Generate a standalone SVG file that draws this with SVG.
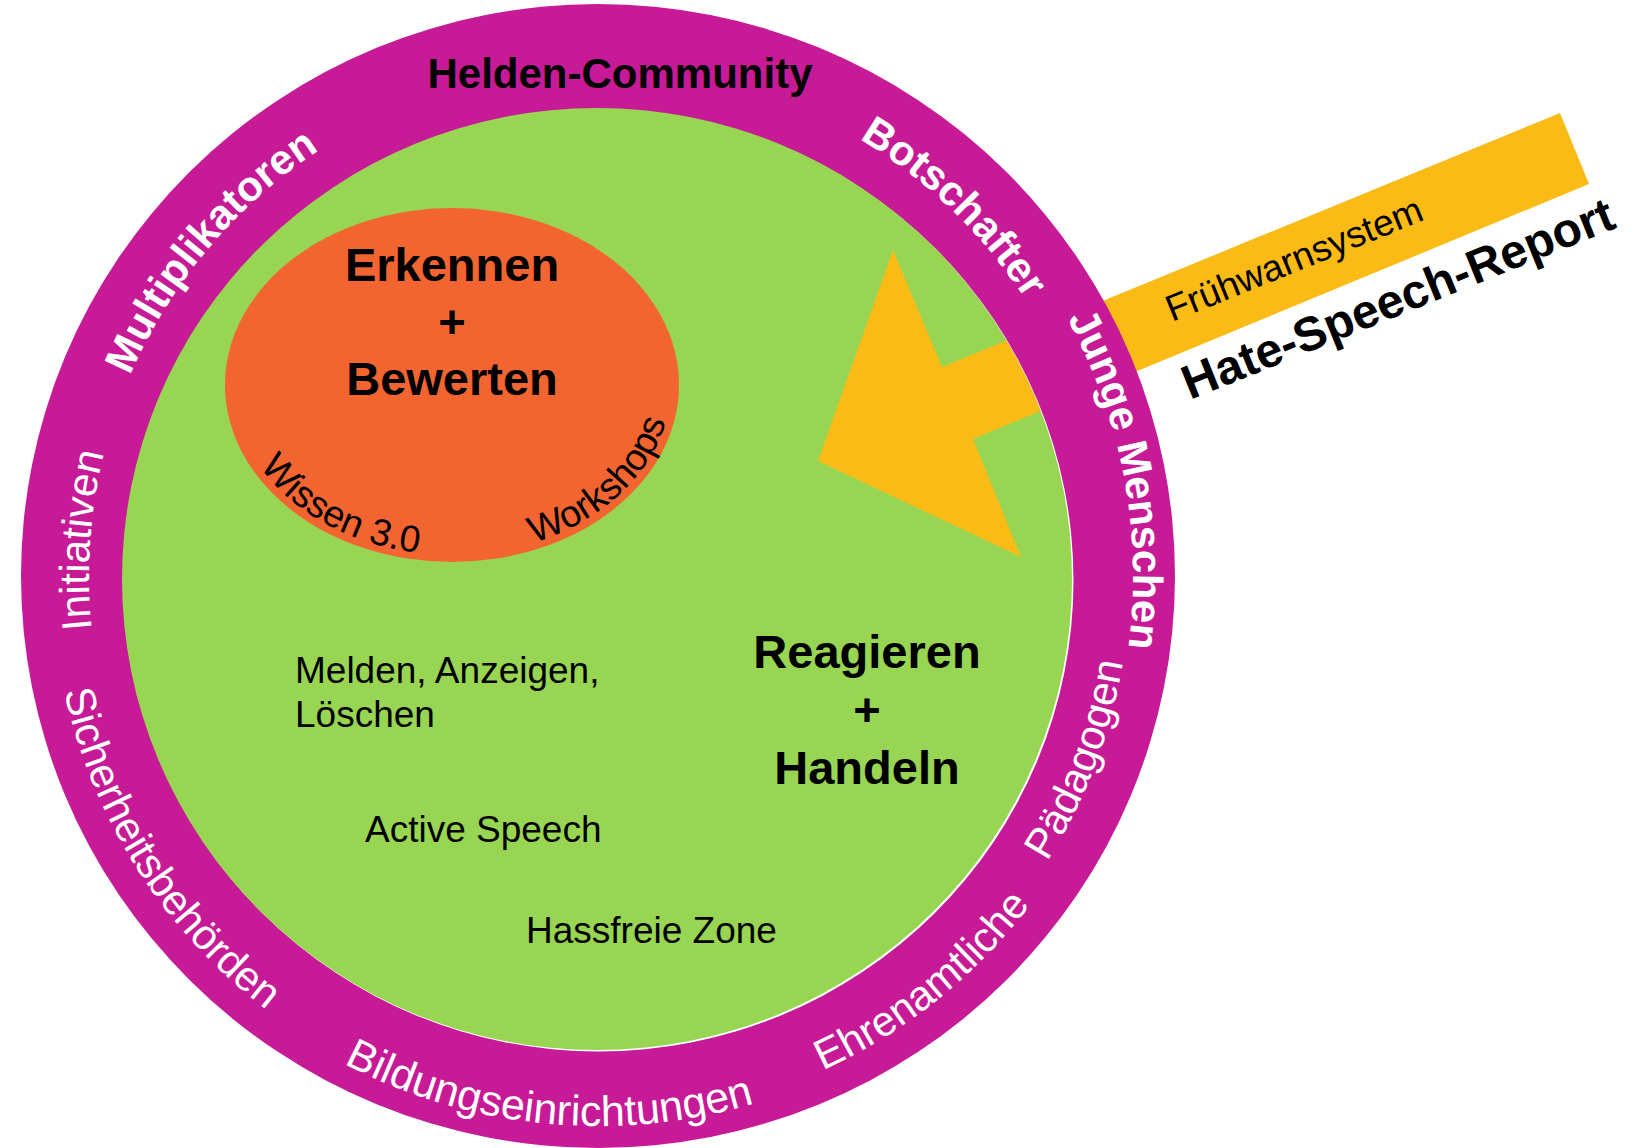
<svg xmlns="http://www.w3.org/2000/svg" width="1650" height="1148" viewBox="0 0 1650 1148">
<style>
text{font-family:"Liberation Sans",Arial,sans-serif}
.ringb{font-weight:bold;font-size:42px;fill:#fff}
.ringr{font-size:42px;fill:#fff}
.big{font-weight:bold;font-size:47px;fill:#000;text-anchor:middle}
.mid{font-size:37px;fill:#000}
.ell{font-size:37.5px;fill:#000}
</style>
<defs>
<path id="pMulti" d="M208.1,903.2 A509,509 0 0 1 852.5,135.2"/>
<path id="pBot" d="M298.8,164.2 A509,509 0 0 1 1020.0,860.6"/>
<path id="pJung" d="M593.3,41.0 A535,535 0 0 1 785.4,1077.1"/>
<path id="pIni" d="M474.9,1069.9 A509,509 0 0 1 544.8,69.8"/>
<path id="pSich" d="M229.8,172.8 A546,546 0 0 0 806.1,1080.8"/>
<path id="pBild" d="M49.7,619.2 A550,550 0 0 0 1128.0,723.0"/>
<path id="pEhr" d="M238.9,983.3 A543,543 0 0 0 1074.8,316.1"/>
<path id="pPaed" d="M497.4,1098.4 A532,532 0 0 0 871.2,119.5"/>
<path id="pOval" d="M233,385 A219,170 0 0 0 671,385"/>
<clipPath id="greenClip"><ellipse cx="597" cy="579" rx="475" ry="471"/></clipPath>
<polygon id="bolt" points="893,250 942,367 1560,113 1589,184 973,439 1021,557 818,461"/>
</defs>

<g id="warnband">
<use href="#bolt" fill="#FBBB16"/>
</g>

<g id="ring">
<ellipse cx="598" cy="576" rx="577" ry="572" fill="#C71A96"/>
</g>

<g id="green">
<ellipse cx="598.5" cy="580.5" rx="475" ry="471" fill="#fff"/>
<ellipse cx="597" cy="579" rx="475" ry="471" fill="#98D552"/>
<use href="#bolt" fill="#FBBB16" clip-path="url(#greenClip)"/>
</g>

<g id="erkennen">
<ellipse cx="452" cy="385" rx="227" ry="177" fill="#F36530"/>
<text class="big" x="452" y="281">Erkennen</text>
<text class="big" x="452" y="338">+</text>
<text class="big" x="452" y="395">Bewerten</text>
<text class="ell"><textPath href="#pOval" startOffset="180" text-anchor="middle">Wissen 3.0</textPath></text>
<text class="ell"><textPath href="#pOval" startOffset="483" text-anchor="middle">Workshops</textPath></text>
</g>

<g id="reagieren">
<text class="big" x="867" y="668">Reagieren</text>
<text class="big" x="867" y="726">+</text>
<text class="big" x="867" y="784">Handeln</text>
</g>

<g id="actions">
<text class="mid" x="295" y="683">Melden, Anzeigen,</text>
<text class="mid" x="295" y="727">Löschen</text>
<text class="mid" x="365" y="842">Active Speech</text>
<text class="mid" x="526" y="943">Hassfreie Zone</text>
</g>

<g id="ring-labels">
<text x="620" y="88" style="font-weight:bold;font-size:42px;fill:#000;text-anchor:middle">Helden-Community</text>
<text class="ringb"><textPath href="#pMulti" startOffset="50%" text-anchor="middle">Multiplikatoren</textPath></text>
<text class="ringb"><textPath href="#pBot" startOffset="50%" text-anchor="middle">Botschafter</textPath></text>
<text class="ringb"><textPath href="#pJung" startOffset="50%" text-anchor="middle">Junge Menschen</textPath></text>
<text class="ringr"><textPath href="#pIni" startOffset="50%" text-anchor="middle">Initiativen</textPath></text>
<text class="ringr"><textPath href="#pSich" startOffset="50%" text-anchor="middle">Sicherheitsbehörden</textPath></text>
<text class="ringr" style="font-size:43px"><textPath href="#pBild" startOffset="50%" text-anchor="middle">Bildungseinrichtungen</textPath></text>
<text class="ringr"><textPath href="#pEhr" startOffset="50%" text-anchor="middle">Ehrenamtliche</textPath></text>
<text class="ringr"><textPath href="#pPaed" startOffset="50%" text-anchor="middle">Pädagogen</textPath></text>
</g>

<g id="report">
<text x="1172" y="322" transform="rotate(-22 1172 322)" style="font-size:37px;fill:#000">Frühwarnsystem</text>
<text x="1190" y="400" transform="rotate(-22 1190 400)" style="font-weight:bold;font-size:48px;fill:#000">Hate-Speech-Report</text>
</g>
</svg>
